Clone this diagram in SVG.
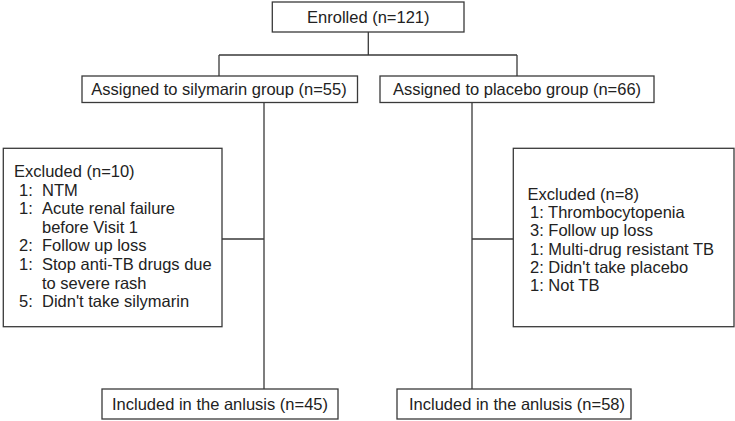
<svg xmlns="http://www.w3.org/2000/svg" width="735" height="421" viewBox="0 0 735 421">
<style>
.box{fill:#fff;stroke:#3a3a3a;stroke-width:1.3}
.ln{fill:none;stroke:#3a3a3a;stroke-width:1.3}
text{font-family:"Liberation Sans",Arial,sans-serif;font-size:16.5px;fill:#222}
.c{text-anchor:middle}
</style>
<rect width="735" height="421" fill="#fff"/>
<g id="connectors">
<path class="ln" d="M368.3,32V55M219,55H517M219,55V76M517,55V76M264,102V389M472,102V389M222,239H264M472,239H513.3"/>
</g>
<g id="enrolled"><rect class="box" x="272.3" y="2" width="191.7" height="30"/><text class="c" x="368.3" y="23">Enrolled (n=121)</text></g>
<g id="silymarin"><rect class="box" x="82" y="76" width="275.5" height="26.5"/><text class="c" x="219" y="95">Assigned to silymarin group (n=55)</text></g>
<g id="placebo"><rect class="box" x="380" y="76" width="274" height="26.5"/><text class="c" x="517" y="95">Assigned to placebo group (n=66)</text></g>
<g id="excluded-silymarin"><rect class="box" x="3.3" y="148.3" width="218.7" height="178.4"/>
<text x="14" y="177">Excluded (n=10)</text>
<text x="19" y="195.6">1: <tspan x="42">NTM</tspan></text>
<text x="19" y="214.2">1: <tspan x="42">Acute renal failure</tspan></text>
<text x="42" y="232.8">before Visit 1</text>
<text x="19" y="251.4">2: <tspan x="42">Follow up loss</tspan></text>
<text x="19" y="270">1: <tspan x="42">Stop anti-TB drugs due</tspan></text>
<text x="42" y="288.6">to severe rash</text>
<text x="19" y="307.2">5: <tspan x="42">Didn't take silymarin</tspan></text>
</g>
<g id="excluded-placebo"><rect class="box" x="513.3" y="148.3" width="220.7" height="178.4"/>
<text x="527.5" y="200">Excluded (n=8)</text>
<text x="530" y="218.2">1: Thrombocytopenia</text>
<text x="530" y="236.4">3: Follow up loss</text>
<text x="530" y="254.6">1: Multi-drug resistant TB</text>
<text x="530" y="272.8">2: Didn't take placebo</text>
<text x="530" y="291">1: Not TB</text>
</g>
<g id="included-silymarin"><rect class="box" x="102" y="389" width="236" height="30"/><text class="c" x="220" y="410">Included in the anlusis (n=45)</text></g>
<g id="included-placebo"><rect class="box" x="397" y="389" width="234" height="30"/><text class="c" x="517" y="410">Included in the anlusis (n=58)</text></g>
</svg>
